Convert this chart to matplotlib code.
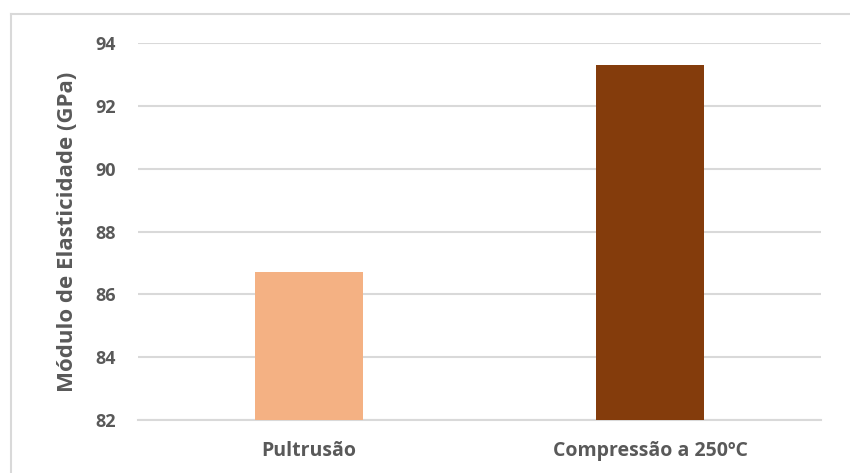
import matplotlib
matplotlib.use("Agg")
import matplotlib.pyplot as plt
from matplotlib.lines import Line2D

categories = ["Pultrusão", "Compressão a 250ºC"]
values = [86.7, 93.3]
colors = ["#F4B183", "#843C0C"]
yticks = [82, 84, 86, 88, 90, 92, 94]

text_color = "#595959"
grid_color = "#D9D9D9"

plt.rcParams["font.family"] = ["Open Sans", "DejaVu Sans"]
plt.rcParams["font.weight"] = "bold"

fig = plt.figure(figsize=(8.5, 4.73), dpi=100)
ax = fig.add_axes([138 / 850, 1 - 420 / 473, (821 - 138) / 850, (420 - 43) / 473])

x = list(range(len(categories)))
ax.bar(x, [v - yticks[0] for v in values], bottom=yticks[0], width=0.316,
       color=colors, zorder=3)

ax.set_xlim(-0.5, len(categories) - 0.5)
ax.set_ylim(yticks[0], yticks[-1])
ax.set_yticks(yticks)
ax.set_xticks(x)
ax.set_xticklabels(categories)
ax.yaxis.grid(True, color=grid_color, linewidth=1.5, zorder=0)
ax.set_axisbelow(True)
for side in ["top", "right", "left"]:
    ax.spines[side].set_visible(False)
ax.spines["bottom"].set_color(grid_color)
ax.spines["bottom"].set_linewidth(1.5)
ax.tick_params(axis="y", length=0, labelsize=13, labelcolor=text_color, pad=16)
ax.tick_params(axis="x", length=0, labelsize=14, labelcolor=text_color, pad=15)
for lbl in ax.get_xticklabels() + ax.get_yticklabels():
    lbl.set_fontweight("bold")

ax.set_ylabel("Módulo de Elasticidade (GPa)", fontsize=16, fontweight="bold",
              color=text_color)
ax.yaxis.set_label_coords(-0.088, 0.5)

# chart frame (top and left edges visible)
fw, fh = 850, 473
fig.add_artist(Line2D([11 / fw, 11 / fw], [0, 1 - 14 / fh], color=grid_color,
                      linewidth=1.5, transform=fig.transFigure))
fig.add_artist(Line2D([11 / fw, 1], [1 - 14 / fh, 1 - 14 / fh], color=grid_color,
                      linewidth=1.5, transform=fig.transFigure))

fig.savefig("out.png", dpi=100)
